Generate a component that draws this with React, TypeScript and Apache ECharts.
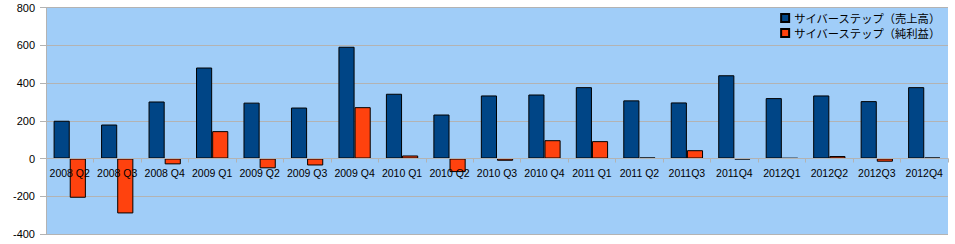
import React, { useEffect, useRef } from "react";
import * as echarts from "echarts";

const categories = [
  "2008 Q2", "2008 Q3", "2008 Q4", "2009 Q1", "2009 Q2", "2009 Q3", "2009 Q4",
  "2010 Q1", "2010 Q2", "2010 Q3", "2010 Q4", "2011 Q1", "2011 Q2", "2011Q3",
  "2011Q4", "2012Q1", "2012Q2", "2012Q3", "2012Q4",
];
const salesName = "サイバーステップ（売上高）";
const profitName = "サイバーステップ（純利益）";
const sales = [200, 180, 302, 482, 296, 270, 592, 343, 233, 334, 339, 378, 308, 297, 441, 320, 334, 304, 378];
const profit = [-208, -291, -31, 145, -52, -37, 272, 16, -72, -12, 97, 92, 5, 44, -5, 2, 13, -17, 5];
const yTicks = { min: -400, max: 800, interval: 200 };

export default function App() {
  const ref = useRef<HTMLDivElement>(null);
  useEffect(() => {
    if (!ref.current) return;
    const chart = echarts.init(ref.current, null, { renderer: "svg" });
    const axisGrey = "#b3b3b3";
    const gridTop = 7.5;
    const gridBottom = 10;
    const plotH = 244 - gridTop - gridBottom;
    const zeroOffset = -plotH * (0 - yTicks.min) / (yTicks.max - yTicks.min);
    chart.setOption({
      animation: false,
      backgroundColor: "#ffffff",
      textStyle: { fontFamily: "Liberation Sans, Arial, sans-serif" },
      grid: {
        left: 46, right: 7, top: gridTop, bottom: gridBottom,
        show: true, backgroundColor: "#a0cdf8", borderWidth: 0,
      },
      legend: {
        orient: "vertical",
        right: 9,
        top: 7,
        itemWidth: 8,
        itemHeight: 8,
        itemGap: 3,
        icon: "rect",
        textStyle: {
          fontFamily: "Noto Sans CJK JP",
          fontSize: 11.3,
          color: "#000",
          lineHeight: 12,
        },
        data: [salesName, profitName],
      },
      xAxis: {
        type: "category",
        data: categories,
        offset: zeroOffset,
        z: 5,
        axisLine: { onZero: false, lineStyle: { color: axisGrey } },
        axisTick: { show: true, length: 4, lineStyle: { color: axisGrey } },
        axisLabel: { color: "#000", fontSize: 10.5, margin: 9, interval: 0 },
      },
      yAxis: {
        type: "value",
        min: yTicks.min,
        max: yTicks.max,
        interval: yTicks.interval,
        axisLine: { show: true, lineStyle: { color: axisGrey } },
        axisTick: { show: true, length: 6, lineStyle: { color: axisGrey } },
        axisLabel: { color: "#000", fontSize: 11, margin: 11 },
        splitLine: { show: true, lineStyle: { color: axisGrey } },
      },
      series: [
        {
          name: salesName,
          type: "bar",
          data: sales,
          barGap: "0%",
          barCategoryGap: "32%",
          itemStyle: { color: "#004586", borderColor: "#000", borderWidth: 1 },
        },
        {
          name: profitName,
          type: "bar",
          data: profit,
          itemStyle: { color: "#ff420e", borderColor: "#000", borderWidth: 1 },
        },
      ],
    });
    return () => chart.dispose();
  }, []);
  return (
    <div
      ref={ref}
      style={{ position: "fixed", left: 0, top: 0, width: 955, height: 244 }}
    />
  );
}
